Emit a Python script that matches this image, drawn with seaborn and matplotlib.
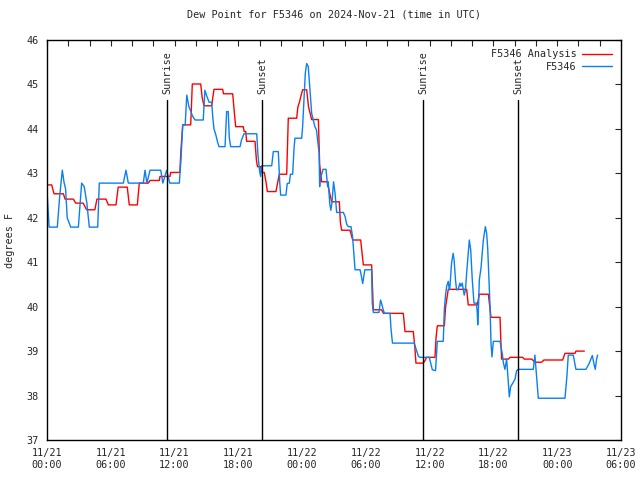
import pandas as pd
import numpy as np
import matplotlib
matplotlib.use("Agg")
import matplotlib.pyplot as plt
import matplotlib.dates as mdates
from matplotlib.lines import Line2D
import seaborn as sns

# hours after 2024-11-21 00:00 UTC, and dew point (F)
ana_h = [0.0, 0.44, 0.66, 1.54, 1.7, 2.48, 2.7, 3.4, 3.73, 4.5, 4.7, 5.55, 5.77, 6.49,
         6.7, 7.55, 7.74, 8.5, 8.68, 9.53, 9.69, 10.57, 10.63, 11.57, 11.63, 12.5, 12.6,
         12.77, 13.52, 13.67, 14.46, 14.6, 14.77, 15.49, 15.71, 16.53, 16.6, 17.47, 17.6,
         17.75, 18.47, 18.55, 18.7, 18.78, 19.57, 19.7, 19.8, 20.1, 20.2, 20.44, 20.6,
         20.73, 21.54, 21.7, 21.85, 22.55, 22.7, 23.49, 23.6, 23.75, 23.9, 24.05, 24.43,
         24.6, 24.9, 25.53, 25.65, 25.84, 26.37, 26.55, 26.78, 27.5, 27.6, 27.72, 28.5,
         28.76, 29.51, 29.76, 30.54, 30.7, 31.48, 31.65, 33.52, 33.68, 34.46, 34.6, 34.71,
         35.33, 35.5, 35.71, 36.5, 36.6, 36.72, 37.38, 37.5, 37.75, 39.48, 39.63, 40.48,
         40.67, 41.52, 41.77, 42.62, 42.7, 42.77, 43.4, 43.56, 44.75, 44.9, 45.6, 45.9,
         46.53, 46.75, 48.51, 48.73, 49.67, 49.76, 50.55]
ana_v = [42.74, 42.74, 42.54, 42.54, 42.42, 42.42, 42.33, 42.33, 42.18, 42.18, 42.42, 42.42,
         42.29, 42.29, 42.69, 42.69, 42.29, 42.29, 42.78, 42.78, 42.84, 42.84, 42.93, 42.93,
         43.02, 43.02, 43.52, 44.09, 44.09, 45.01, 45.01, 44.7, 44.52, 44.52, 44.89, 44.89,
         44.79, 44.79, 44.43, 44.05, 44.05, 43.94, 43.94, 43.72, 43.72, 43.3, 43.15, 43.15,
         43.02, 43.02, 42.81, 42.59, 42.59, 42.79, 42.98, 42.98, 44.24, 44.24, 44.49, 44.6,
         44.75, 44.88, 44.88, 44.5, 44.21, 44.21, 43.2, 42.81, 42.81, 42.6, 42.36, 42.36,
         41.89, 41.72, 41.72, 41.5, 41.5, 40.94, 40.94, 39.93, 39.93, 39.85, 39.85, 39.44,
         39.44, 39.1, 38.73, 38.73, 38.76, 38.86, 38.86, 39.3, 39.57, 39.57, 40.0, 40.39,
         40.39, 40.04, 40.04, 40.28, 40.28, 39.76, 39.76, 39.2, 38.82, 38.82, 38.86, 38.86,
         38.82, 38.82, 38.75, 38.75, 38.8, 38.8, 38.95, 38.95, 39.0, 39.0]

obs_h = [0.0, 0.1, 0.2, 0.97, 1.2, 1.44, 1.6, 1.75, 1.9, 2.23, 2.95, 3.26, 3.5, 3.75, 3.98,
         4.77, 4.92, 7.18, 7.43, 7.65, 9.06, 9.22, 9.4, 9.69, 10.7, 10.9, 11.26, 11.4, 11.55,
         12.45, 12.6, 12.77, 13.0, 13.15, 13.35, 13.52, 13.67, 13.92, 14.7, 14.85, 15.0,
         15.25, 15.49, 15.6, 15.71, 15.9, 16.03, 16.18, 16.75, 16.9, 17.05, 17.15, 17.28,
         18.16, 18.3, 18.53, 19.73, 19.85, 20.0, 20.1, 20.2, 21.14, 21.29, 21.76, 21.9,
         21.98, 22.48, 22.6, 22.8, 22.9, 23.11, 23.25, 23.33, 23.96, 24.05, 24.2, 24.3,
         24.43, 24.58, 24.67, 24.8, 24.9, 25.05, 25.2, 25.35, 25.45, 25.6, 25.65, 25.71,
         25.87, 25.96, 26.25, 26.4, 26.46, 26.55, 26.6, 26.7, 26.8, 26.96, 27.1, 27.25,
         27.88, 28.04, 28.2, 28.35, 28.6, 28.75, 28.82, 28.98, 29.45, 29.55, 29.7, 29.9,
         30.54, 30.6, 30.7, 31.23, 31.38, 31.48, 31.64, 31.75, 32.27, 32.36, 32.5, 34.55,
         34.7, 34.95, 35.09, 35.96, 36.1, 36.25, 36.55, 36.72, 37.28, 37.38, 37.5, 37.6,
         37.75, 37.85, 37.9, 38.06, 38.21, 38.3, 38.43, 38.53, 38.68, 38.84, 38.93, 39.06,
         39.25, 39.37, 39.48, 39.73, 39.86, 40.01, 40.17, 40.4, 40.48, 40.52, 40.58, 40.67,
         40.83, 40.95, 41.05, 41.24, 41.36, 41.46, 41.52, 41.58, 41.68, 41.77, 41.86, 41.99,
         42.62, 42.71, 42.84, 42.93, 43.08, 43.24, 43.4, 43.49, 43.62, 43.87, 44.03, 44.18,
         44.34, 45.75, 45.9, 46.22, 48.73, 48.9, 49.04, 49.51, 49.76, 50.7, 51.0, 51.3,
         51.45, 51.58, 51.7, 51.8]
obs_v = [42.6, 42.2, 41.79, 41.79, 42.5, 43.07, 42.8, 42.65, 42.0, 41.79, 41.79, 42.78, 42.7,
         42.33, 41.79, 41.79, 42.78, 42.78, 43.07, 42.78, 42.78, 43.07, 42.78, 43.07, 43.07,
         42.78, 43.07, 42.93, 42.78, 42.78, 43.3, 44.09, 44.09, 44.76, 44.5, 44.4, 44.3, 44.2,
         44.2, 44.87, 44.76, 44.6, 44.6, 44.25, 44.0, 43.85, 43.72, 43.6, 43.6, 44.39, 44.39,
         43.8, 43.6, 43.6, 43.75, 43.89, 43.89, 43.4, 43.05, 42.93, 43.17, 43.17, 43.49,
         43.49, 42.78, 42.51, 42.51, 42.77, 42.78, 42.98, 42.98, 43.6, 43.79, 43.79, 44.06,
         44.8, 45.25, 45.47, 45.4, 45.1, 44.7, 44.35, 44.2, 44.05, 43.98, 43.76, 43.46, 42.7,
         42.89, 43.0, 43.09, 43.09, 42.7, 42.81, 42.47, 42.32, 42.17, 42.32, 42.81, 42.55,
         42.12, 42.12, 42.03, 41.85, 41.8, 41.8, 41.57, 41.35, 40.83, 40.83, 40.72, 40.52,
         40.83, 40.83, 40.08, 39.87, 39.87, 40.15, 40.07, 39.92, 39.85, 39.85, 39.51, 39.18,
         39.18, 39.06, 38.88, 38.86, 38.86, 38.73, 38.58, 38.56, 39.22, 39.22, 39.94, 40.28,
         40.46, 40.57, 40.38, 40.42, 40.98, 41.2, 41.05, 40.6, 40.38, 40.38, 40.53, 40.46,
         40.53, 40.26, 40.38, 40.76, 41.5, 41.28, 40.6, 40.08, 40.08, 39.86, 39.59, 39.88,
         40.6, 40.87, 41.2, 41.5, 41.8, 41.65, 41.31, 40.98, 40.6, 40.0, 39.18, 38.87, 39.22,
         39.22, 39.1, 38.93, 38.74, 38.59, 38.82, 38.3, 37.97, 38.2, 38.3, 38.37, 38.56,
         38.59, 38.59, 38.91, 37.94, 37.94, 38.4, 38.91, 38.91, 38.59, 38.59, 38.72, 38.9,
         38.72, 38.59, 38.82, 38.91]

sun_h = [11.32, 20.23, 35.4, 44.34]
sun_lab = ["Sunrise", "Sunset", "Sunrise", "Sunset"]

t0 = pd.Timestamp("2024-11-21 00:00")
df = pd.concat([
    pd.DataFrame({"time": t0 + pd.to_timedelta(ana_h, unit="h"), "dew": ana_v,
                  "series": "F5346 Analysis"}),
    pd.DataFrame({"time": t0 + pd.to_timedelta(obs_h, unit="h"), "dew": obs_v,
                  "series": "F5346"}),
])
colors = {"F5346 Analysis": "#ff0000", "F5346": "#0a80f0"}

sns.set_style("white")
plt.rcParams["font.family"] = ["DejaVu Sans Mono"]
fs = 7.3

fig = plt.figure(figsize=(6.4, 4.8), dpi=100)
ax = fig.add_axes([47 / 640, 40 / 480, 574 / 640, 400 / 480])

sns.lineplot(data=df, x="time", y="dew", hue="series", palette=colors,
             hue_order=["F5346 Analysis", "F5346"], estimator=None, sort=False,
             linewidth=1.0, legend=False, ax=ax)

for h, lab in zip(sun_h, sun_lab):
    t = t0 + pd.Timedelta(hours=h)
    ax.plot([t, t], [37, 44.65], color="black", lw=1.0)
    ax.text(t, 44.78, lab, rotation=90, ha="center", va="bottom", fontsize=fs)

ax.set_xlim(t0, t0 + pd.Timedelta(hours=54))
ax.set_ylim(37, 46)
ax.set_yticks(np.arange(37, 47, 1))
ax.xaxis.set_major_locator(mdates.HourLocator(byhour=[0, 6, 12, 18]))
ax.xaxis.set_major_formatter(mdates.DateFormatter("%m/%d\n%H:%M"))
ax.xaxis.set_minor_locator(mdates.HourLocator(byhour=range(0, 24, 2)))
ax.tick_params(which="both", direction="in", top=True, right=True, length=4,
               width=0.8, labelsize=fs, pad=6)
for s in ax.spines.values():
    s.set_color("black")
    s.set_linewidth(1.0)

ax.set_xlabel("")
ax.set_ylabel("degrees F", fontsize=fs, labelpad=8)
ax.set_title("Dew Point for F5346 on 2024-Nov-21 (time in UTC)", fontsize=fs, pad=16)

handles = [Line2D([], [], color=colors["F5346 Analysis"], lw=1.0),
           Line2D([], [], color=colors["F5346"], lw=1.0)]
ax.legend(handles, ["F5346 Analysis", "F5346"], loc="upper right", frameon=False,
          markerfirst=False, fontsize=fs, handlelength=2.9, handletextpad=0.6,
          labelspacing=0.25, borderaxespad=0.5)

fig.savefig("out.png", dpi=100)
